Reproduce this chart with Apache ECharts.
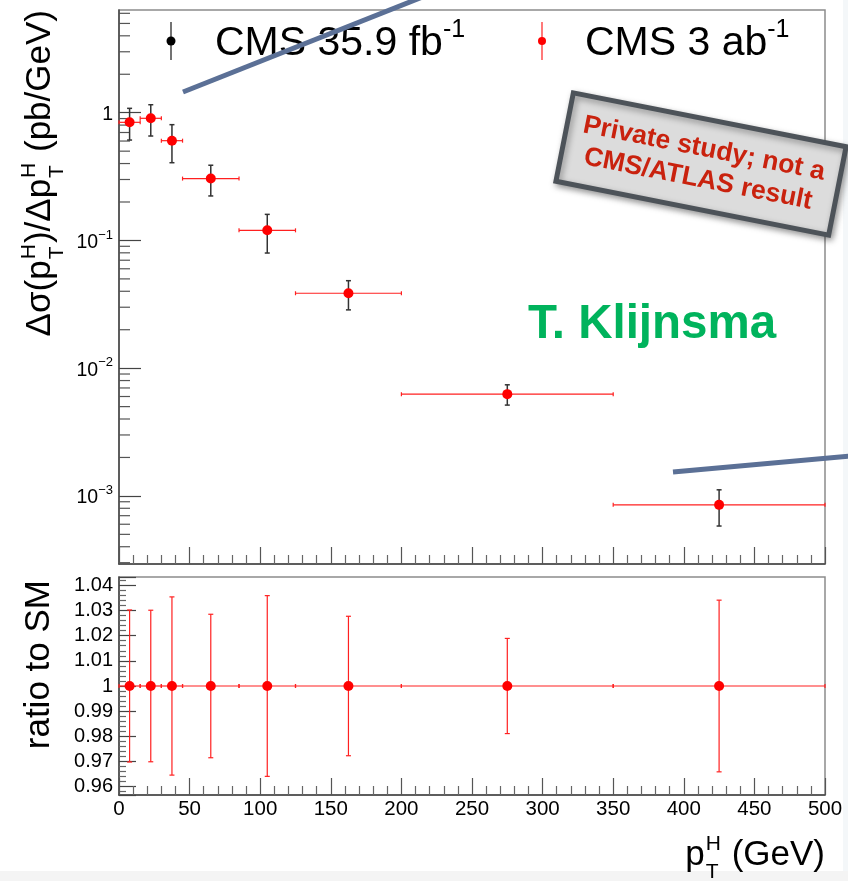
<!DOCTYPE html>
<html>
<head>
<meta charset="utf-8">
<script src="https://cdn.jsdelivr.net/npm/echarts@6/dist/echarts.min.js"></script>
<style>
html, body { margin: 0; padding: 0; background: #fff; }
#main { width: 848px; height: 881px; }
</style>
</head>
<body>
<div id="main"></div>
<script>
// bins of pT^H (GeV)
var binLo = [0, 15, 30, 45, 85, 125, 200, 350];
var binHi = [15, 30, 45, 85, 125, 200, 350, 500];
var binCenter = [7.5, 22.5, 37.5, 65, 105, 162.5, 275, 425];
// dsigma/dpT (pb/GeV), CMS 35.9 fb-1 with its error band
var xsec = [0.841, 0.904, 0.604, 0.305, 0.120, 0.0386, 0.00626, 0.000851];
var xsecUp = [1.082, 1.155, 0.806, 0.388, 0.160, 0.0484, 0.00741, 0.001116];
var xsecDown = [0.611, 0.657, 0.406, 0.223, 0.0797, 0.0286, 0.00514, 0.000581];
// relative uncertainty CMS 3 ab-1 (ratio panel)
var ratioErr = [0.0302, 0.0301, 0.0354, 0.0285, 0.0359, 0.0277, 0.0189, 0.0341];
// minor ticks of the log axis
var minorMantissa = [2, 3, 4, 5, 6, 7, 8, 9];
var minorDecades = [-4, -3, -2, -1, 0];

var yMinLog = 2.93e-4, yMaxLog = 6.37;
var FAM = '"Liberation Sans", Arial, Helvetica, sans-serif';

var logMinor = [];
minorDecades.forEach(function (d) {
  minorMantissa.forEach(function (m) {
    var v = m * Math.pow(10, d);
    if (v > yMinLog && v < yMaxLog) logMinor.push([0, v]);
  });
});

// 量一下文字宽度
var measureCtx = document.createElement('canvas').getContext('2d');
function textW(t, size) {
  measureCtx.font = size + 'px ' + FAM;
  return measureCtx.measureText(t).width;
}

// ROOT 风格的上下标: parts = [{t:'..'} | {sub:'T', sup:'H'}]
function scriptText(parts, size, small) {
  var kids = [], x = 0;
  parts.forEach(function (p) {
    if (p.t !== undefined) {
      kids.push({ type: 'text', x: x, y: 0, style: { text: p.t, fontSize: size, fontFamily: FAM, fill: '#000', align: 'left', verticalAlign: 'middle' } });
      x += textW(p.t, size);
    } else {
      kids.push({ type: 'text', x: x + 1, y: -11, style: { text: p.sup, fontSize: small, fontFamily: FAM, fill: '#000', align: 'left', verticalAlign: 'middle' } });
      kids.push({ type: 'text', x: x + 1, y: 17, style: { text: p.sub, fontSize: small, fontFamily: FAM, fill: '#000', align: 'left', verticalAlign: 'middle' } });
      x += Math.max(textW(p.sup, small), textW(p.sub, small)) + 2;
    }
  });
  return { children: kids, width: x };
}

var yTitle = scriptText([{ t: '\u0394\u03c3(p' }, { sub: 'T', sup: 'H' }, { t: ')/\u0394p' }, { sub: 'T', sup: 'H' }, { t: ' (pb/GeV)' }], 35, 21);
yTitle.children.forEach(function (c) { c.x -= yTitle.width; });
var xTitle = scriptText([{ t: 'p' }, { sub: 'T', sup: 'H' }, { t: ' (GeV)' }], 35, 21);

var chart = echarts.init(document.getElementById('main'));

// 误差棒 黑色
function blackErr(params, api) {
  var x = api.value(0);
  var top = api.coord([x, api.value(2)]);
  var bot = api.coord([x, api.value(1)]);
  var st = { stroke: '#333', lineWidth: 1.5 };
  return {
    type: 'group',
    children: [
      { type: 'line', shape: { x1: top[0], y1: top[1], x2: bot[0], y2: bot[1] }, style: st },
      { type: 'line', shape: { x1: top[0] - 2.5, y1: top[1], x2: top[0] + 2.5, y2: top[1] }, style: st },
      { type: 'line', shape: { x1: bot[0] - 2.5, y1: bot[1], x2: bot[0] + 2.5, y2: bot[1] }, style: st }
    ]
  };
}

// 红色 bin 宽度 + 误差
function redErr(params, api) {
  var lo = api.value(0), hi = api.value(1), x = api.value(2), y = api.value(3), e = api.value(4);
  var a = api.coord([lo, y]), b = api.coord([hi, y]);
  var t = api.coord([x, y * (1 + e)]), d = api.coord([x, y * (1 - e)]);
  var st = { stroke: '#ff2020', lineWidth: 1.2 };
  return {
    type: 'group',
    children: [
      { type: 'line', shape: { x1: a[0], y1: a[1], x2: b[0], y2: b[1] }, style: st },
      { type: 'line', shape: { x1: a[0], y1: a[1] - 2, x2: a[0], y2: a[1] + 2 }, style: st },
      { type: 'line', shape: { x1: b[0], y1: b[1] - 2, x2: b[0], y2: b[1] + 2 }, style: st },
      { type: 'line', shape: { x1: t[0], y1: t[1], x2: d[0], y2: d[1] }, style: st },
      { type: 'line', shape: { x1: t[0] - 2.5, y1: t[1], x2: t[0] + 2.5, y2: t[1] }, style: st },
      { type: 'line', shape: { x1: d[0] - 2.5, y1: d[1], x2: d[0] + 2.5, y2: d[1] }, style: st }
    ]
  };
}

function minorTicks(params, api) {
  var p = api.coord([api.value(0), api.value(1)]);
  return { type: 'line', shape: { x1: p[0], y1: p[1], x2: p[0] + 11, y2: p[1] }, style: { stroke: '#555', lineWidth: 1.2 } };
}

var blackData = [], redData = [], ratioData = [], dots = [], ratioDots = [];
for (var i = 0; i < xsec.length; i++) {
  blackData.push([binCenter[i], xsecDown[i], xsecUp[i]]);
  redData.push([binLo[i], binHi[i], binCenter[i], xsec[i], ratioErr[i]]);
  ratioData.push([binLo[i], binHi[i], binCenter[i], 1, ratioErr[i]]);
  dots.push([binCenter[i], xsec[i]]);
  ratioDots.push([binCenter[i], 1]);
}

var axisLineSt = { show: true, onZero: false, lineStyle: { color: '#444', width: 1.5 } };
var legendRich = {
  m: { fontSize: 41, fontFamily: FAM, fill: '#000', lineHeight: 46, verticalAlign: 'bottom' },
  s: { fontSize: 25, fontFamily: FAM, fill: '#000', lineHeight: 25, verticalAlign: 'top' }
};

var option = {
  animation: false,
  backgroundColor: '#fff',
  grid: [
    { left: 119, top: 10, width: 706, height: 554, show: true, borderColor: '#8c8c8c', borderWidth: 1.5 },
    { left: 119, top: 577, width: 706, height: 218, show: true, borderColor: '#8c8c8c', borderWidth: 1.5 }
  ],
  xAxis: [0, 1].map(function (g) {
    return {
      type: 'value', gridIndex: g, min: 0, max: 500, interval: 50,
      axisLine: axisLineSt,
      axisTick: { inside: true, length: 17, lineStyle: { color: '#555', width: 1.2 } },
      minorTick: { show: true, splitNumber: 5, length: 9, lineStyle: { color: '#666', width: 1.2 } },
      axisLabel: { show: g === 1, fontSize: 20.5, color: '#000', margin: 4, fontFamily: FAM },
      splitLine: { show: false }
    };
  }),
  yAxis: [
    {
      type: 'log', gridIndex: 0, logBase: 10, min: yMinLog, max: yMaxLog,
      axisLine: axisLineSt,
      axisTick: { inside: true, length: 22, lineStyle: { color: '#444', width: 1.2 } },
      axisLabel: {
        showMinLabel: false, showMaxLabel: false, margin: 6,
        formatter: function (v) {
          var e = Math.round(Math.log10(v));
          if (e === 0) return '{b|1}';
          return '{b|10}{s|' + (e < 0 ? '\u2212' : '') + Math.abs(e) + '}';
        },
        rich: {
          b: { fontSize: 19.5, fontFamily: FAM, color: '#000', lineHeight: 24, verticalAlign: 'bottom' },
          s: { fontSize: 13, fontFamily: FAM, color: '#000', lineHeight: 13, verticalAlign: 'top' }
        }
      },
      splitLine: { show: false }
    },
    {
      type: 'value', gridIndex: 1, min: 0.9567, max: 1.0433, splitNumber: 8, maxInterval: 0.01,
      axisLine: axisLineSt,
      axisTick: { inside: true, length: 17, lineStyle: { color: '#444', width: 1.2 } },
      minorTick: { show: true, splitNumber: 5, length: 7, lineStyle: { color: '#666', width: 1.2 } },
      axisLabel: {
        showMinLabel: false, showMaxLabel: false, margin: 6, fontSize: 20, color: '#000', fontFamily: FAM,
        formatter: function (v) { return String(parseFloat(v.toFixed(2))); }
      },
      splitLine: { show: false }
    }
  ],
  series: [
    { name: 'log minor ticks', type: 'custom', xAxisIndex: 0, yAxisIndex: 0, renderItem: minorTicks, data: logMinor, encode: { x: 0, y: 1 }, silent: true, z: 3 },
    { name: 'CMS 35.9 fb-1', type: 'custom', xAxisIndex: 0, yAxisIndex: 0, renderItem: blackErr, data: blackData, encode: { x: 0, y: [1, 2] }, z: 4 },
    { name: 'CMS 3 ab-1', type: 'custom', xAxisIndex: 0, yAxisIndex: 0, renderItem: redErr, data: redData, encode: { x: [0, 1], y: 3 }, z: 5 },
    { name: 'CMS 3 ab-1 pts', type: 'scatter', xAxisIndex: 0, yAxisIndex: 0, data: dots, symbolSize: 10, itemStyle: { color: '#ff0000', opacity: 1 }, z: 6 },
    { name: 'ratio err', type: 'custom', xAxisIndex: 1, yAxisIndex: 1, renderItem: redErr, data: ratioData, encode: { x: [0, 1], y: 3 }, z: 5 },
    { name: 'ratio pts', type: 'scatter', xAxisIndex: 1, yAxisIndex: 1, data: ratioDots, symbolSize: 10, itemStyle: { color: '#ff0000', opacity: 1 }, z: 6 }
  ],
  graphic: [
    // 背景条
    { type: 'rect', shape: { x: 0, y: 871, width: 848, height: 10 }, style: { fill: '#f4f4f4' }, z: 0 },
    { type: 'rect', shape: { x: 843, y: 0, width: 5, height: 871 }, style: { fill: '#f4f7f9' }, z: 0 },
    // legend
    { type: 'line', shape: { x1: 171, y1: 22, x2: 171, y2: 60 }, style: { stroke: '#444', lineWidth: 1.5 }, z: 50 },
    { type: 'circle', shape: { cx: 171, cy: 41, r: 4.5 }, style: { fill: '#000' }, z: 50 },
    { type: 'text', x: 215, y: 41, z: 50, style: { text: '{m|CMS 35.9 fb}{s|-1}', align: 'left', verticalAlign: 'middle', rich: legendRich } },
    { type: 'line', shape: { x1: 542, y1: 22, x2: 542, y2: 60 }, style: { stroke: '#ff2020', lineWidth: 1.2 }, z: 50 },
    { type: 'circle', shape: { cx: 542, cy: 41, r: 4 }, style: { fill: '#ff0000' }, z: 50 },
    { type: 'text', x: 585, y: 41, z: 50, style: { text: '{m|CMS 3 ab}{s|-1}', align: 'left', verticalAlign: 'middle', rich: legendRich } },
    // axis titles
    { type: 'group', x: 40, y: 10, rotation: Math.PI / 2, z: 50, children: yTitle.children },
    {
      type: 'text', x: 39, y: 580, rotation: Math.PI / 2, z: 50,
      style: { text: 'ratio to SM', align: 'right', verticalAlign: 'middle', fontSize: 35, fontFamily: FAM, fill: '#000' }
    },
    { type: 'group', x: 825 - xTitle.width, y: 855, z: 50, children: xTitle.children },
    // annotations
    {
      type: 'text', x: 528, y: 325, z: 50,
      style: { text: 'T. Klijnsma', fontSize: 47.5, fontWeight: 'bold', fontFamily: FAM, fill: '#00b35c', align: 'left', verticalAlign: 'middle' }
    },
    { type: 'line', shape: { x1: 183, y1: 92, x2: 430, y2: -6 }, style: { stroke: '#5b7096', lineWidth: 5 }, z: 60 },
    { type: 'line', shape: { x1: 673, y1: 472, x2: 850, y2: 456 }, style: { stroke: '#5b7096', lineWidth: 5 }, z: 60 },
    {
      type: 'group', x: 701, y: 164, rotation: -0.195, z: 60,
      children: [
        {
          type: 'rect', shape: { x: -139, y: -45, width: 278, height: 90 },
          style: { fill: '#dcdcdc', stroke: '#4d5359', lineWidth: 5, shadowBlur: 6, shadowOffsetX: 2, shadowOffsetY: 3, shadowColor: 'rgba(0,0,0,0.35)' }
        },
        {
          type: 'text', x: 0, y: 0,
          style: { text: 'Private study; not a\nCMS/ATLAS result', fontSize: 26.5, fontWeight: 'bold', fontFamily: FAM, fill: '#c9220e', align: 'center', verticalAlign: 'middle', lineHeight: 31 }
        }
      ]
    }
  ]
};

chart.setOption(option);
</script>
</body>
</html>
